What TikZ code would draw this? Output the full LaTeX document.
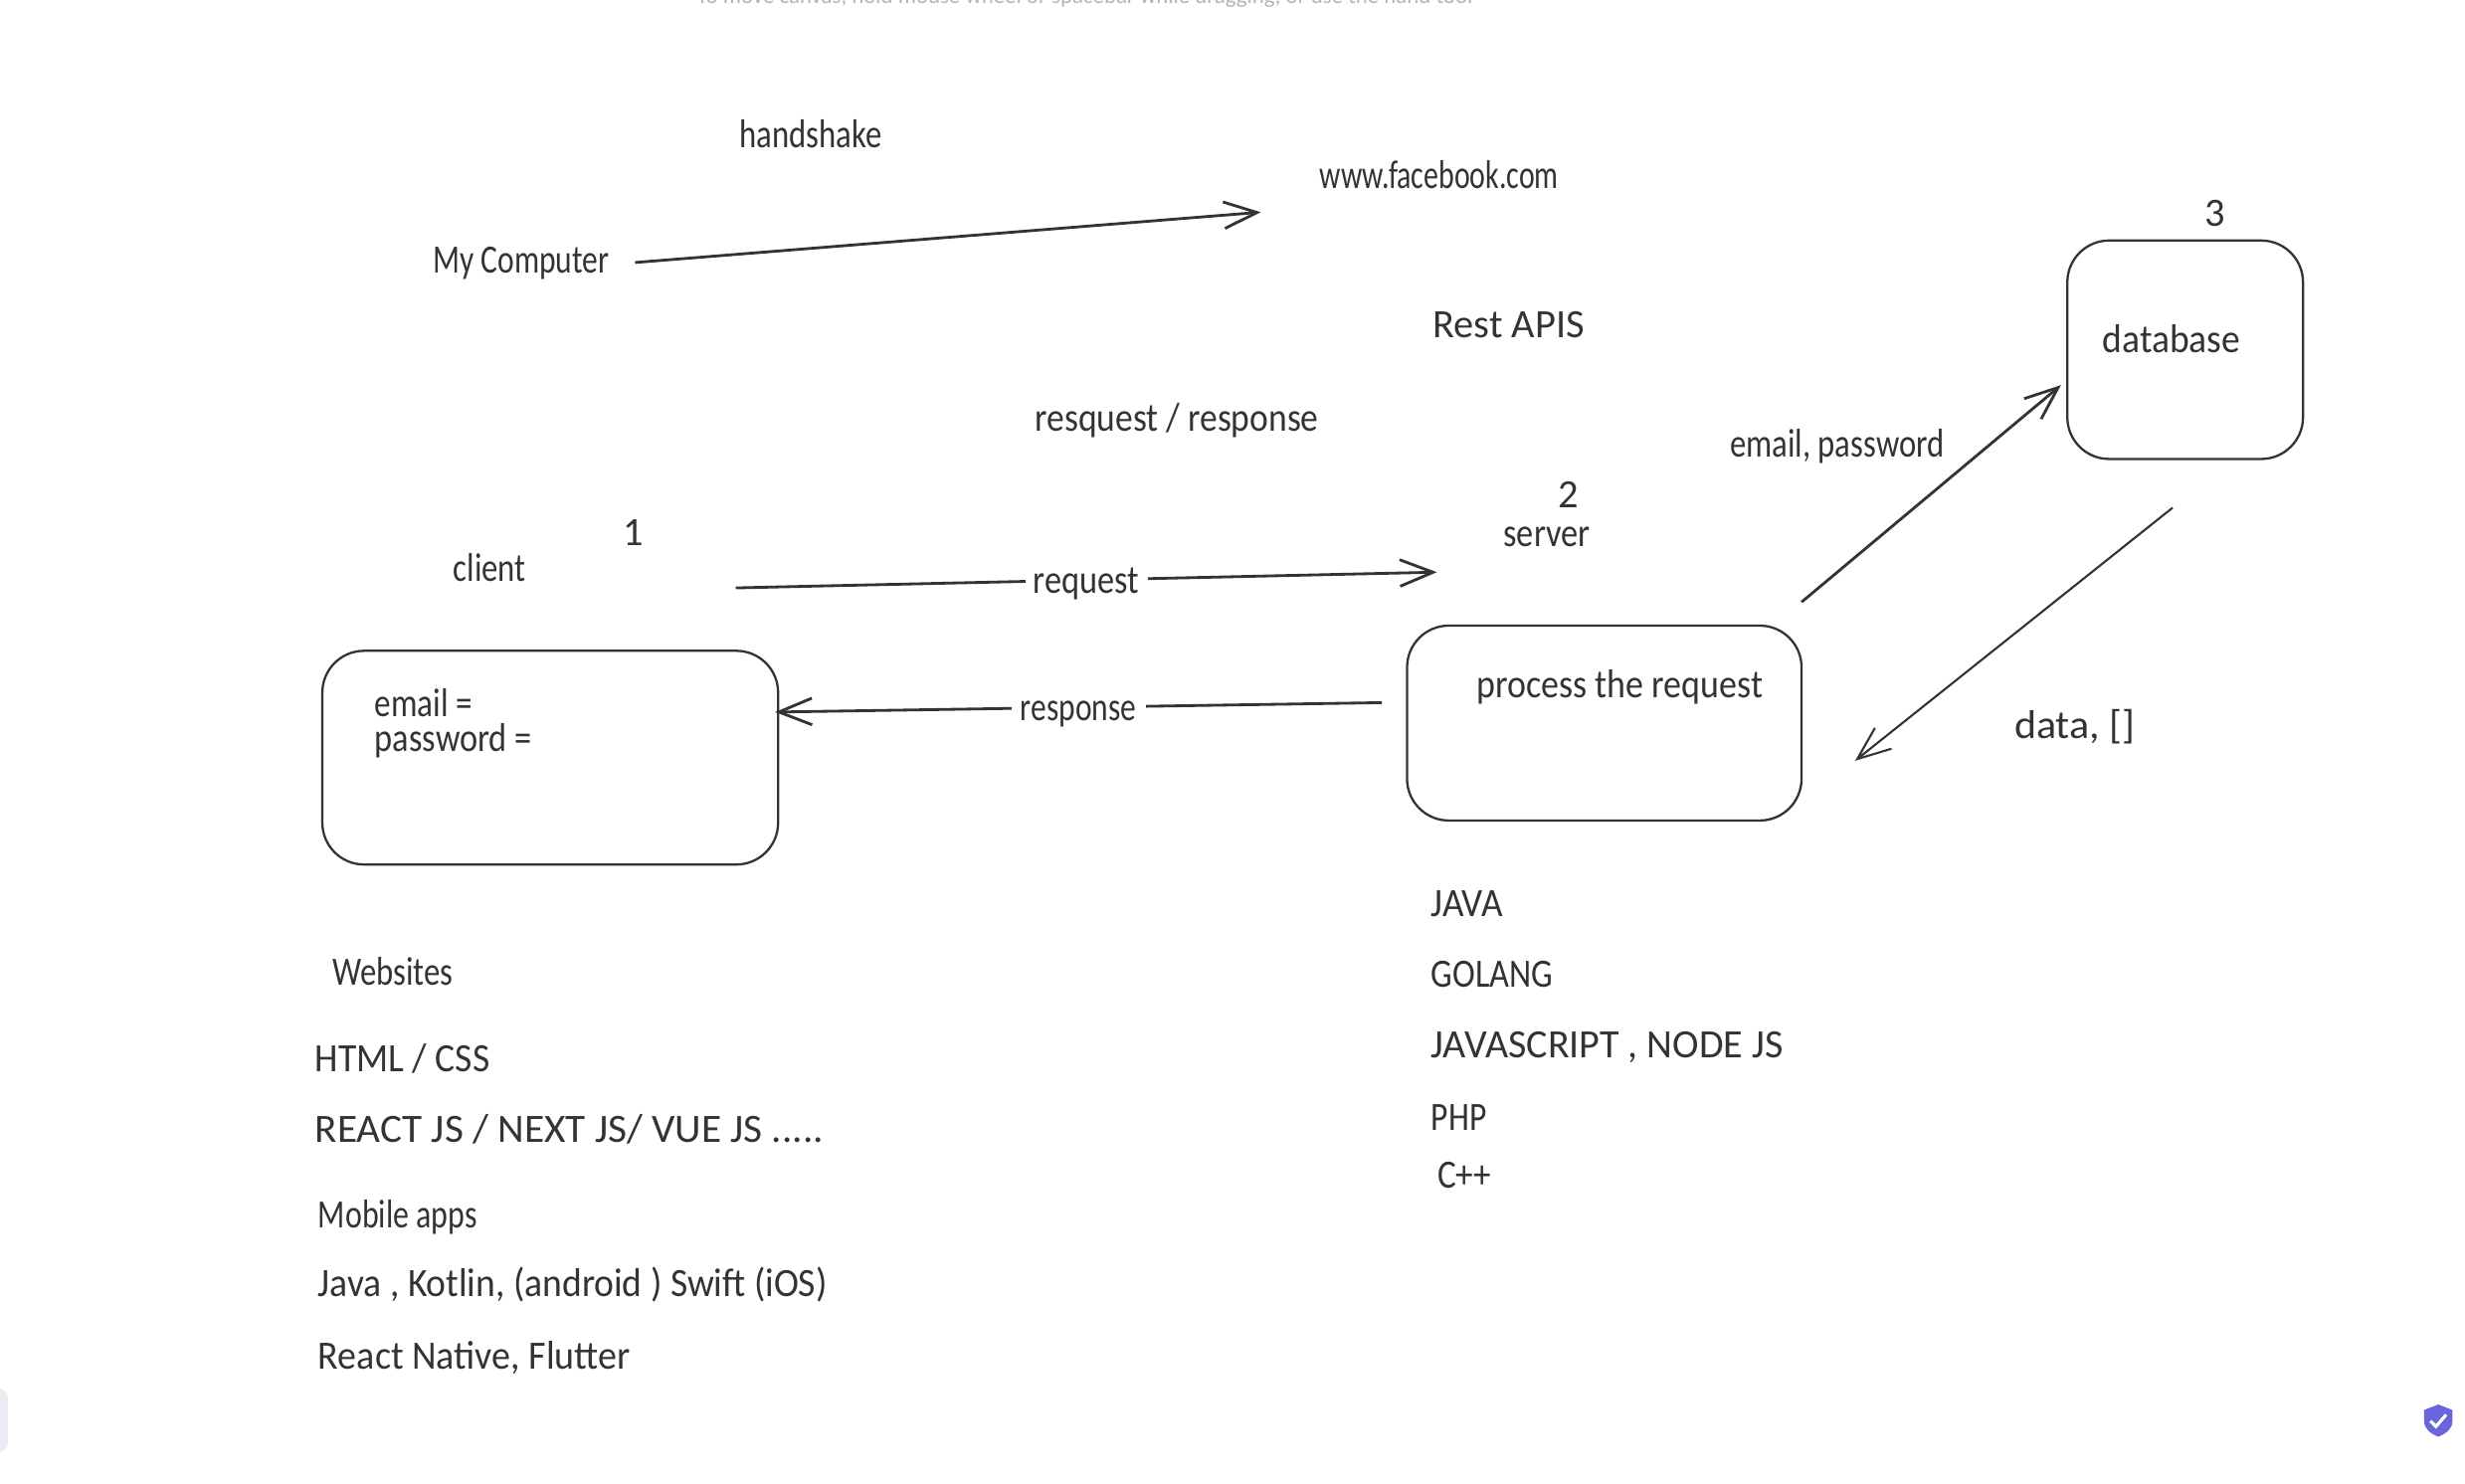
\documentclass[tikz,border=0pt]{standalone}
\usepackage{fontspec}
\usepackage{graphicx}
\setmainfont{Carlito}
\usetikzlibrary{arrows.meta}
\definecolor{ink}{HTML}{333333}
\definecolor{hintgrey}{HTML}{B4B4B4}
\definecolor{dockgrey}{HTML}{ECECF4}
\definecolor{shieldblue}{HTML}{6965DB}
\tikzset{
  sketchbox/.style={draw=ink, line width=.65pt, rounded corners=.42cm, inner sep=0pt},
  hand/.style={anchor=base west, inner sep=0pt, text=ink, font=\fontsize{11.5}{13}\selectfont},
  flow/.style={->, draw=ink, line width=.8pt},
  flowlabel/.style={fill=white, inner sep=0pt, minimum height=.3cm, text=ink, yshift=-.8pt, font=\fontsize{11.5}{13}\selectfont}
}
\begin{document}
\begin{tikzpicture}[>={Straight Barb[length=9.5pt,width=7.6pt]}, x=.015804cm, y=-.015804cm]
    \useasboundingbox (0,0) rectangle (1568,944);
    \clip (0,0) rectangle (1568,944);
    \node[anchor=base, inner sep=0pt, text=hintgrey, font=\fontsize{6.5}{8}\selectfont] (hint) at (690,2) {To move canvas, hold mouse wheel or spacebar while dragging, or use the hand tool};

    % boxes
    \node[sketchbox, minimum width=4.583cm, minimum height=2.149cm] (clientbox) at (350,482) {};
    \node[sketchbox, minimum width=3.967cm, minimum height=1.96cm] (serverbox) at (1020.5,460) {};
    \node[sketchbox, minimum width=2.37cm, minimum height=2.197cm] (dbbox) at (1390,222.5) {};

    % free ends of the arrows
    \coordinate (hsstart) at (404,167);
    \coordinate (hsend) at (802,135);
    \coordinate (reqstart) at (468,374);
    \coordinate (reqend) at (914,364);
    \coordinate (respstart) at (879,447);
    \coordinate (respend) at (493,453);
    \coordinate (qstart) at (1146,383);
    \coordinate (qend) at (1311,245);
    \coordinate (dstart) at (1382,323);
    \coordinate (dend) at (1180,484);

    \draw[flow] (hsstart)--(hsend);
    \draw[flow] (reqstart)--(reqend) node[midway, flowlabel, minimum width=1.23cm, yshift=-.4pt] (reqlabel) {\scalebox{.85}[1]{request}};
    \draw[flow] (respstart)--(respend) node[midway, flowlabel, minimum width=1.35cm, yshift=-1.2pt] (resplabel) {\scalebox{.78}[1]{response}};
    \draw[flow] (qstart)--(qend);
    \draw[flow, line width=.6pt] (dstart)--(dend);

    \foreach \nm/\x/\y/\s/\t in {handshake/470/94/.81/handshake, fb/839/120/.74/www.facebook.com,
      mycomputer/275/174/.78/My Computer, rest/911/215/1/Rest APIS,
      reqresp/658/274/.88/{resquest / response}, one/396/347/1/1, client/288/370/.81/client,
      two/991/323/1/2, server/956/348/.85/server, three/1402/144/1/3, database/1337/224/.93/database,
      emailpass/1100/291/.81/{email, password}, process/939/444/.89/process the request,
      data/1281/470/1.04/{data, []}, email/238/456/.82/email =, password/238/478/.85/password =}
    {
        \node[hand] (\nm) at (\x,\y) {\scalebox{\s}[1]{\t}};
    }

    % client side list
    \foreach \nm/\x/\y/\s/\t in {websites/211/627/.81/Websites, html/200/682/.93/{HTML / CSS},
      mobile/202/781/.79/Mobile apps,
      java/202/825/.93/{Java , Kotlin, (android ) Swift (iOS)}, native/202/871/.94/{React Native, Flutter}}
    {
        \node[hand] (\nm) at (\x,\y) {\scalebox{\s}[1]{\t}};
    }
    \node[hand] (react) at (200,727) {\scalebox{1.02}[1]{REACT JS / NEXT JS/ VUE JS .....}};

    % server side list
    \foreach \nm/\x/\y/\s/\t in {javaup/910/583/.92/JAVA, golang/910/628/.85/GOLANG,
      jsnode/910/673/.99/{JAVASCRIPT , NODE JS}, php/910/719/.83/PHP, cpp/914/756/.87/C++}
    {
        \node[hand] (\nm) at (\x,\y) {\scalebox{\s}[1]{\t}};
    }

    % window furniture
    \fill[dockgrey, rounded corners=.1cm] (-20,883) rectangle (5,924);
    \fill[shieldblue] (1551,893.5)--(1560,897)--(1560,904) .. controls (1560,909) and (1556,912) .. (1551,914) .. controls (1546,912) and (1542,909) .. (1542,904)--(1542,897)--cycle;
    \draw[white, line width=.9pt] (1546,904)--(1549.5,907.5)--(1556,900);
\end{tikzpicture}
\end{document}
